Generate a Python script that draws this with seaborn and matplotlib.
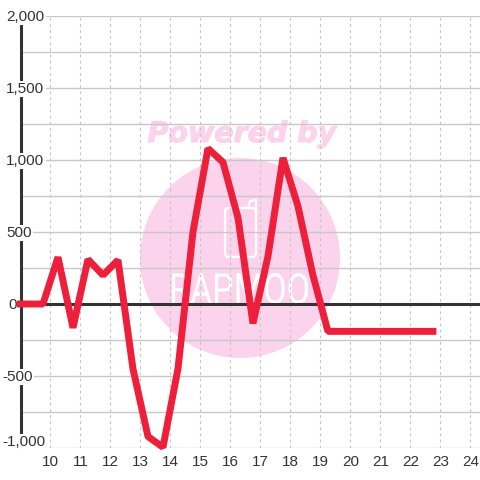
import matplotlib
matplotlib.use("Agg")
import matplotlib.pyplot as plt
from matplotlib.font_manager import FontProperties
from matplotlib.patches import Circle, FancyBboxPatch, PathPatch
from matplotlib.textpath import TextPath
from matplotlib.transforms import Affine2D
import matplotlib.patheffects as pe
import pandas as pd
import seaborn as sns

# values
hours = [9.0, 9.75, 10.25, 10.75, 11.25, 11.75, 12.25, 12.75, 13.25, 13.75, 14.25, 14.75,
         15.25, 15.75, 16.25, 16.75, 17.25, 17.75, 18.25, 18.75, 19.25, 19.75, 20.25,
         20.75, 21.25, 21.75, 22.25, 22.75]
values = [0, 0, 325, -165, 310, 200, 305, -450, -920, -995, -450, 500,
          1080, 985, 600, -135, 330, 1015, 680, 200, -190, -190, -190,
          -190, -190, -190, -190, -190]
x_ticks = list(range(10, 25))
y_grid = list(range(-1000, 2001, 250))
y_ticks = [2000, 1500, 1000, 500, 0, -500, -1000]
y_labels = ["2,000", "1,500", "1,000", "500", "0", "-500", "-1,000"]
y_label_left = [6, 6, 6, 6, 8, 2, 2]

sns.set_theme(style="white")
plt.rcParams["font.family"] = ["Liberation Sans", "DejaVu Sans"]

fig = plt.figure(figsize=(4.8, 4.8), dpi=100, facecolor="white")

# watermark sits behind the chart, in pixel coordinates
bg = fig.add_axes([0, 0, 1, 1], zorder=0)
bg.set_xlim(0, 480)
bg.set_ylim(480, 0)
bg.axis("off")
bg.add_patch(Circle((240, 258), 100, color="#fbd3ec", lw=0))
bg.text(242, 134, "Powered by", color="#fbd3ec", fontsize=20.5, fontweight="bold",
        style="italic", family="DejaVu Sans", ha="center", va="center",
        path_effects=[pe.withStroke(linewidth=0.8, foreground="#fbd3ec")])
bg.add_patch(FancyBboxPatch((225, 208), 31, 49, boxstyle="round,pad=0,rounding_size=4",
                            fc="none", ec="white", lw=1.7))
bg.plot([248, 250, 256, 256], [208, 201, 200, 212], color="white", lw=1.7)

# logo text squeezed into its box
logo = TextPath((0, 0), "RAPMOO", size=1, prop=FontProperties(family="Roboto"))
box = logo.get_extents()
squeeze = Affine2D().translate(-box.x0, -box.y0).scale(136 / box.width, -31 / box.height).translate(172, 304)
bg.add_patch(PathPatch(squeeze.transform_path(logo), fc="white", ec="none"))

ax = fig.add_axes([20.5 / 480, 32 / 480, 459.5 / 480, 432 / 480], zorder=1)
ax.patch.set_alpha(0)

df = pd.DataFrame({"hour": hours, "value": values})
sns.lineplot(data=df, x="hour", y="value", ax=ax, color="#ee1f3a", linewidth=5,
             solid_joinstyle="bevel", solid_capstyle="projecting", clip_on=False, zorder=5)

ax.set_xlim(9, 24.32)
ax.set_ylim(-1000, 2000)
ax.set_xlabel("")
ax.set_ylabel("")
ax.set_xticks(x_ticks)
ax.set_yticks(y_grid)
ax.set_yticklabels([])
ax.set_axisbelow(True)
ax.grid(axis="y", color="#c8c8c8", lw=1, ls="-")
ax.grid(axis="x", color="#c4c4c4", lw=0.8, ls=(0, (2.5, 3)))
ax.tick_params(axis="both", length=0)
ax.tick_params(axis="x", labelsize=11, labelcolor="#333333", pad=5)

for side in ["top", "right", "bottom"]:
    ax.spines[side].set_visible(False)
ax.spines["left"].set_color("#333333")
ax.spines["left"].set_linewidth(2.2)
ax.spines["left"].set_zorder(2)
ax.axhline(0, color="#333333", lw=2.2, zorder=2)

# y labels are left aligned and have a white box that breaks the axis line
for val, lab, left in zip(y_ticks, y_labels, y_label_left):
    dy = 6 if val == -1000 else -1
    ax.annotate(lab, xy=(left / 480, val), xycoords=(fig.transFigure, "data"),
                xytext=(0, dy * 0.72), textcoords="offset points", ha="left", va="center",
                fontsize=11, color="#333333", zorder=3, annotation_clip=False,
                bbox=dict(fc="white", ec="none", pad=1))

fig.savefig("out.png", dpi=100)
